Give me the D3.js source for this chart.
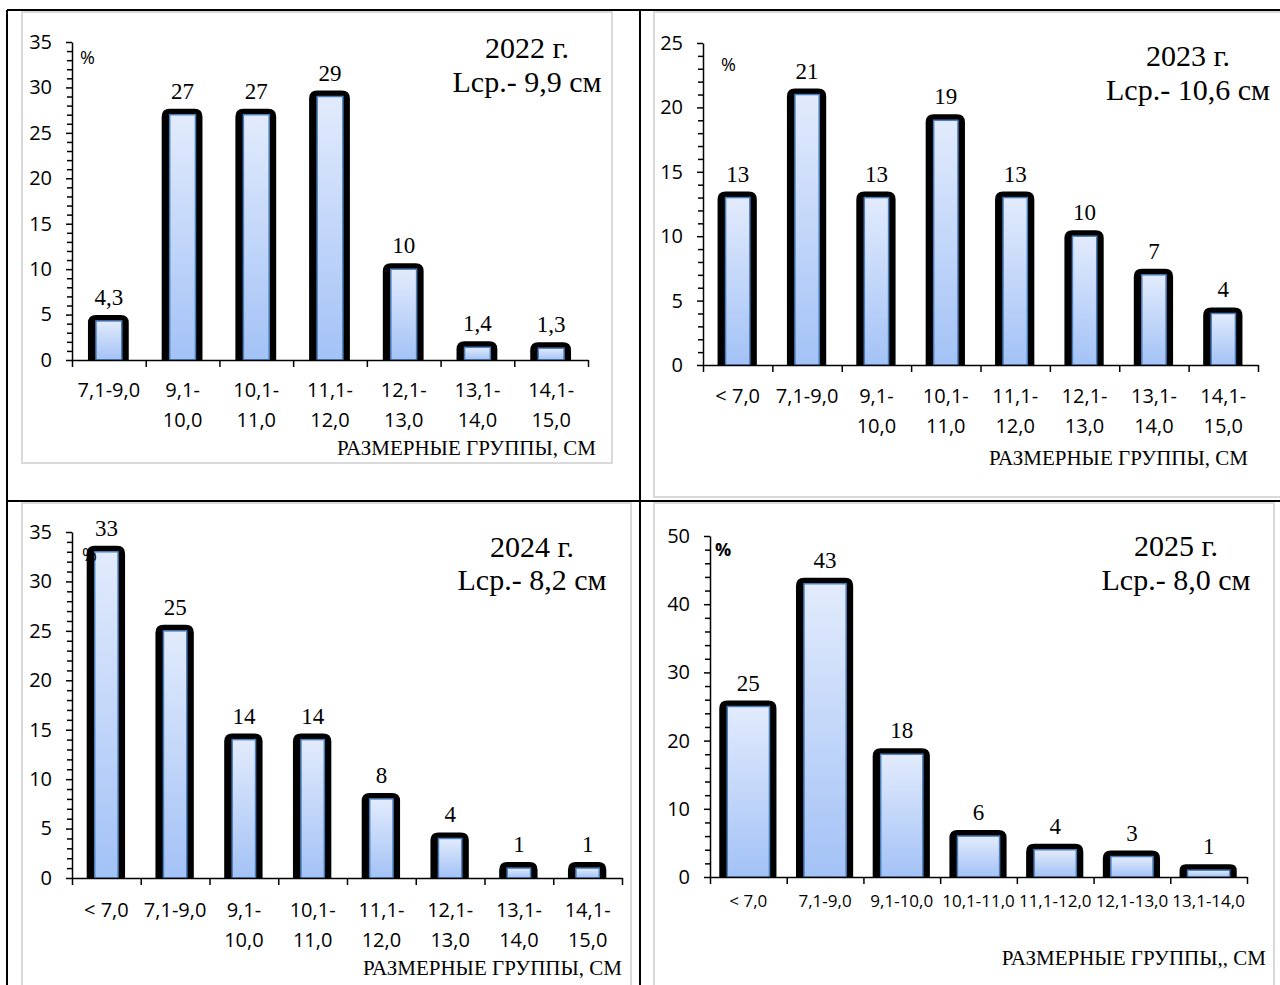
<!DOCTYPE html>
<html>
<head>
<meta charset="utf-8">
<script src="https://cdn.jsdelivr.net/npm/d3@7"></script>
<style>
  body { margin: 0; background: #fff; }
</style>
</head>
<body>
<script>
// page size
const w = 1280;
const h = 985;

// data, one set per year
const cats2022 = ["7,1-9,0", "9,1-\n10,0", "10,1-\n11,0", "11,1-\n12,0", "12,1-\n13,0", "13,1-\n14,0", "14,1-\n15,0"];
const vals2022 = [4.3, 27, 27, 29, 10, 1.4, 1.3];

const cats2023 = ["< 7,0", "7,1-9,0", "9,1-\n10,0", "10,1-\n11,0", "11,1-\n12,0", "12,1-\n13,0", "13,1-\n14,0", "14,1-\n15,0"];
const vals2023 = [13, 21, 13, 19, 13, 10, 7, 4];

const cats2024 = ["< 7,0", "7,1-9,0", "9,1-\n10,0", "10,1-\n11,0", "11,1-\n12,0", "12,1-\n13,0", "13,1-\n14,0", "14,1-\n15,0"];
const vals2024 = [33, 25, 14, 14, 8, 4, 1, 1];

const cats2025 = ["< 7,0", "7,1-9,0", "9,1-10,0", "10,1-11,0", "11,1-12,0", "12,1-13,0", "13,1-14,0"];
const vals2025 = [25, 43, 18, 6, 4, 3, 1];

// y axis ticks
const yTicks35 = [0, 5, 10, 15, 20, 25, 30, 35];
const yTicks25 = [0, 5, 10, 15, 20, 25];
const yTicks50 = [0, 10, 20, 30, 40, 50];

// headings
const years = ["2022 г.", "2023 г.", "2024 г.", "2025 г."];
const means = ["Lср.- 9,9 см", "Lср.- 10,6 см", "Lср.- 8,2 см", "Lср.- 8,0 см"];
const xTitles = ["РАЗМЕРНЫЕ ГРУППЫ, СМ", "РАЗМЕРНЫЕ ГРУППЫ, СМ", "РАЗМЕРНЫЕ ГРУППЫ, СМ", "РАЗМЕРНЫЕ ГРУППЫ,, СМ"];

// layout of the four panels
const panels = [
  { cats: cats2022, vals: vals2022, ticks: yTicks35, minorStep: 1, yMax: 35,
    x0: 72, x1: 588, y0: 360, yTop: 42, barFrac: 0.35, font: 20,
    lab1: 397, lab2: 427, tcx: 527, t1: 58, t2: 92, xtx: 596, xty: 455,
    pctx: 80, pcty: 64, pctBold: false, box: [22, 12, 612, 463], yi: 0 },
  { cats: cats2023, vals: vals2023, ticks: yTicks25, minorStep: 1, yMax: 25,
    x0: 703, x1: 1258, y0: 365, yTop: 43, barFrac: 0.35, font: 20,
    lab1: 403, lab2: 433, tcx: 1188, t1: 66, t2: 100, xtx: 1248, xty: 465,
    pctx: 721, pcty: 71, pctBold: false, box: [654, 12, 1281, 497], yi: 1 },
  { cats: cats2024, vals: vals2024, ticks: yTicks35, minorStep: 1, yMax: 35,
    x0: 72, x1: 622, y0: 878, yTop: 532, barFrac: 0.34, font: 20,
    lab1: 917, lab2: 947, tcx: 532, t1: 557, t2: 590, xtx: 622, xty: 975,
    pctx: 82, pcty: 561, pctBold: false, box: [22, 503, 631, 986], yi: 2 },
  { cats: cats2025, vals: vals2025, ticks: yTicks50, minorStep: 2, yMax: 50,
    x0: 710, x1: 1247, y0: 877, yTop: 536, barFrac: 0.55, font: 17,
    lab1: 907, lab2: 937, tcx: 1176, t1: 556, t2: 590, xtx: 1266, xty: 965,
    pctx: 715, pcty: 556, pctBold: true, box: [654, 503, 1274, 986], yi: 3 }
];

const svg = d3.select("body")
  .append("svg")
  .attr("width", w)
  .attr("height", h)
  .style("background", "#fff");

// bar fill
const grad = svg.append("defs").append("linearGradient")
  .attr("id", "barFill")
  .attr("x1", 0).attr("y1", 0).attr("x2", 0).attr("y2", 1);
grad.append("stop").attr("offset", "0%").attr("stop-color", "#e2ebfc");
grad.append("stop").attr("offset", "100%").attr("stop-color", "#a3c2f6");

const fmt = v => String(v).replace(".", ",");

function drawPanel(p) {
  const g = svg.append("g");

  // chart area frame
  g.append("rect")
    .attr("x", p.box[0]).attr("y", p.box[1])
    .attr("width", p.box[2] - p.box[0]).attr("height", p.box[3] - p.box[1])
    .attr("fill", "#fff")
    .attr("stroke", "#d9d9d9")
    .attr("stroke-width", 2);

  const yScale = d3.scaleLinear()
    .domain([0, p.yMax])
    .range([p.y0, p.yTop]);

  const xBand = d3.scaleBand()
    .domain(d3.range(p.cats.length))
    .range([p.x0, p.x1])
    .padding(0);

  const xLin = d3.scaleLinear()
    .domain([0, p.cats.length])
    .range([p.x0, p.x1]);

  const bw = xBand.bandwidth() * p.barFrac;
  const cx = i => xBand(i) + xBand.bandwidth() / 2;

  // black backing behind each bar, rounded at the top
  g.selectAll(".back")
    .data(p.vals)
    .enter()
    .append("path")
    .attr("d", (d, i) => {
      const l = cx(i) - bw / 2 - 8;
      const r = cx(i) + bw / 2 + 7;
      const t = yScale(d) - 6;
      const b = p.y0;
      const rad = Math.min(8, (b - t) / 2);
      return "M" + l + "," + b + "V" + (t + rad) + "Q" + l + "," + t + " " + (l + rad) + "," + t +
        "H" + (r - rad) + "Q" + r + "," + t + " " + r + "," + (t + rad) + "V" + b + "Z";
    })
    .attr("fill", "#000");

  g.selectAll(".bar")
    .data(p.vals)
    .enter()
    .append("rect")
    .attr("x", (d, i) => cx(i) - bw / 2)
    .attr("y", d => yScale(d))
    .attr("width", bw)
    .attr("height", d => p.y0 - yScale(d))
    .attr("fill", "url(#barFill)")
    .attr("stroke", "#4a7ebb")
    .attr("stroke-width", 1.5);

  // value labels
  g.selectAll(".val")
    .data(p.vals)
    .enter()
    .append("text")
    .attr("x", (d, i) => cx(i))
    .attr("y", d => yScale(d) - 16)
    .attr("text-anchor", "middle")
    .style("font-family", "'Liberation Serif', 'Times New Roman', serif")
    .style("font-size", "23px")
    .text(d => fmt(d));

  // y axis with minor ticks
  const minor = d3.range(0, p.yMax + 0.001, p.minorStep).filter(v => p.ticks.indexOf(v) < 0);
  g.append("g")
    .attr("transform", "translate(" + p.x0 + ",0)")
    .call(d3.axisLeft(yScale).tickValues(minor).tickSize(5).tickFormat(""))
    .call(a => a.select(".domain").remove())
    .selectAll("line").attr("stroke-width", 1.5);

  const yAx = g.append("g")
    .attr("transform", "translate(" + p.x0 + ",0)")
    .call(d3.axisLeft(yScale).tickValues(p.ticks).tickSize(6).tickSizeOuter(0).tickPadding(14));
  yAx.select(".domain").attr("stroke-width", 1.5);
  yAx.selectAll("line").attr("stroke-width", 1.5);
  yAx.selectAll("text")
    .style("font-family", "'Open Sans', sans-serif")
    .style("font-size", "20px")
    .attr("fill", "#000");

  // x axis, ticks between categories
  const xAx = g.append("g")
    .attr("transform", "translate(0," + p.y0 + ")")
    .call(d3.axisBottom(xLin).tickValues(d3.range(p.cats.length + 1)).tickSize(7).tickSizeOuter(0).tickFormat(""));
  xAx.select(".domain").attr("stroke-width", 1.5);
  xAx.selectAll("line").attr("stroke-width", 1.5);

  // category labels (may be two lines)
  const lab = g.selectAll(".cat")
    .data(p.cats)
    .enter()
    .append("text")
    .attr("text-anchor", "middle")
    .style("font-family", "'Open Sans', sans-serif")
    .style("font-size", p.font + "px");
  lab.each(function(d, i) {
    const parts = d.split("\n");
    d3.select(this).selectAll("tspan")
      .data(parts)
      .enter()
      .append("tspan")
      .attr("x", cx(i))
      .attr("y", (s, k) => k === 0 ? p.lab1 : p.lab2)
      .text(s => s);
  });

  // axis title
  g.append("text")
    .attr("x", p.xtx)
    .attr("y", p.xty)
    .attr("text-anchor", "end")
    .style("font-family", "'Liberation Serif', 'Times New Roman', serif")
    .style("font-size", "21px")
    .text(xTitles[p.yi]);

  // % sign
  g.append("text")
    .attr("x", p.pctx)
    .attr("y", p.pcty)
    .style("font-family", "'Open Sans', sans-serif")
    .style("font-size", "18px")
    .style("font-weight", p.pctBold ? "bold" : "normal")
    .text("%");

  // year and mean length
  g.append("text")
    .attr("x", p.tcx).attr("y", p.t1)
    .attr("text-anchor", "middle")
    .style("font-family", "'Liberation Serif', 'Times New Roman', serif")
    .style("font-size", "30px")
    .text(years[p.yi]);
  g.append("text")
    .attr("x", p.tcx).attr("y", p.t2)
    .attr("text-anchor", "middle")
    .style("font-family", "'Liberation Serif', 'Times New Roman', serif")
    .style("font-size", "30px")
    .text(means[p.yi]);
}

panels.forEach(drawPanel);

// table lines round the four charts
const grid = [
  [7, 10, 1280, 10],
  [7, 10, 7, 985],
  [640, 10, 640, 985],
  [7, 501, 1280, 501]
];
svg.selectAll(".grid")
  .data(grid)
  .enter()
  .append("line")
  .attr("x1", d => d[0]).attr("y1", d => d[1])
  .attr("x2", d => d[2]).attr("y2", d => d[3])
  .attr("stroke", "#000")
  .attr("stroke-width", 2);
</script>
</body>
</html>
